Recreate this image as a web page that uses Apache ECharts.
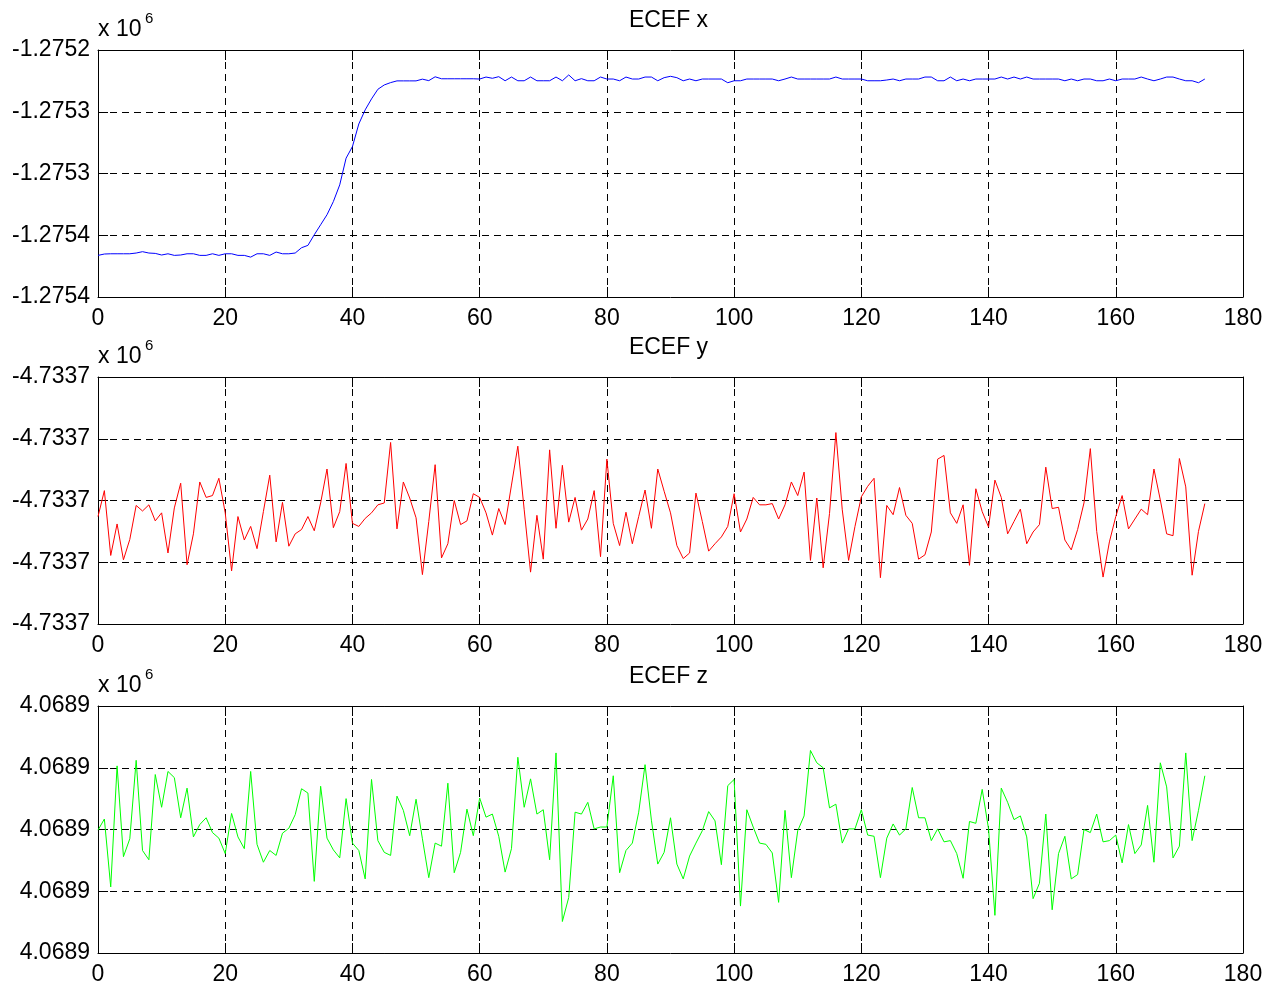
<!DOCTYPE html>
<html>
<head>
<meta charset="utf-8">
<title>ECEF position</title>
<script src="https://cdn.jsdelivr.net/npm/echarts@6/dist/echarts.min.js"></script>
<style>
  html, body { margin: 0; padding: 0; background: #ffffff; }
  #chart { width: 1275px; height: 988px; }
</style>
</head>
<body>
<div id="chart"></div>
<script>
// ECEF coordinates of the receiver, one sample per epoch (metres)
const ecefX = [
  -1275366.3, -1275365.2, -1275365.0, -1275365.0, -1275365.0, -1275365.0, -1275364.4, -1275363.3, -1275364.4, -1275364.7,
  -1275366.0, -1275365.0, -1275366.3, -1275366.0, -1275365.0, -1275365.0, -1275366.3, -1275366.3, -1275365.0, -1275366.3,
  -1275365.0, -1275365.0, -1275366.3, -1275366.3, -1275367.7, -1275365.0, -1275365.0, -1275366.3, -1275363.6, -1275365.0,
  -1275365.0, -1275364.4, -1275360.1, -1275358.2, -1275349.6, -1275341.5, -1275333.4, -1275322.7, -1275309.2, -1275287.6,
  -1275278.2, -1275259.9, -1275248.5, -1275239.6, -1275231.8, -1275228.3, -1275226.4, -1275225.0, -1275225.0, -1275225.0,
  -1275225.0, -1275223.6, -1275224.8, -1275221.7, -1275223.3, -1275223.3, -1275223.3, -1275223.3, -1275223.3, -1275223.3,
  -1275223.5, -1275221.9, -1275222.9, -1275221.6, -1275224.9, -1275221.9, -1275224.9, -1275224.9, -1275221.9, -1275224.9,
  -1275224.9, -1275224.9, -1275221.9, -1275224.9, -1275220.2, -1275224.9, -1275223.2, -1275224.9, -1275224.9, -1275221.9,
  -1275223.5, -1275223.5, -1275224.9, -1275221.9, -1275223.5, -1275223.5, -1275221.9, -1275221.9, -1275224.9, -1275222.4,
  -1275221.3, -1275222.4, -1275224.9, -1275223.5, -1275224.9, -1275223.5, -1275223.5, -1275223.5, -1275223.5, -1275226.5,
  -1275224.9, -1275224.9, -1275223.5, -1275223.5, -1275223.5, -1275223.5, -1275223.5, -1275224.9, -1275223.5, -1275221.9,
  -1275223.5, -1275223.5, -1275223.5, -1275223.5, -1275223.5, -1275223.5, -1275221.9, -1275223.5, -1275223.5, -1275223.5,
  -1275223.5, -1275224.9, -1275224.9, -1275224.9, -1275224.3, -1275223.5, -1275224.9, -1275223.5, -1275223.5, -1275223.5,
  -1275221.9, -1275221.9, -1275224.9, -1275224.9, -1275221.9, -1275224.9, -1275223.5, -1275224.9, -1275223.5, -1275223.5,
  -1275223.5, -1275223.5, -1275221.9, -1275223.5, -1275221.9, -1275223.5, -1275221.9, -1275223.5, -1275223.5, -1275223.5,
  -1275223.5, -1275223.5, -1275224.9, -1275223.5, -1275224.9, -1275223.5, -1275223.5, -1275224.9, -1275224.9, -1275223.5,
  -1275224.9, -1275223.5, -1275223.5, -1275223.5, -1275221.9, -1275223.5, -1275224.9, -1275223.5, -1275221.9, -1275221.9,
  -1275223.5, -1275224.9, -1275224.9, -1275226.5, -1275223.5
];

const ecefY = [
  -4733702.6, -4733698.4, -4733708.9, -4733703.8, -4733709.6, -4733706.3, -4733700.8, -4733701.7, -4733700.7, -4733703.3,
  -4733702.0, -4733708.5, -4733701.2, -4733697.2, -4733710.4, -4733705.4, -4733697.0, -4733699.5, -4733699.2, -4733696.4,
  -4733702.0, -4733711.4, -4733702.6, -4733706.4, -4733704.2, -4733707.8, -4733701.8, -4733695.9, -4733706.7, -4733700.3,
  -4733707.4, -4733705.4, -4733704.7, -4733702.6, -4733704.9, -4733700.4, -4733694.9, -4733704.4, -4733701.8, -4733694.0,
  -4733703.7, -4733704.2, -4733702.9, -4733702.0, -4733700.7, -4733700.4, -4733690.6, -4733704.6, -4733697.0, -4733699.6,
  -4733702.8, -4733712.0, -4733703.4, -4733694.2, -4733709.3, -4733707.0, -4733700.0, -4733703.9, -4733703.3, -4733698.9,
  -4733699.5, -4733702.0, -4733705.6, -4733701.3, -4733703.9, -4733697.5, -4733691.2, -4733701.5, -4733711.6, -4733702.4,
  -4733709.5, -4733691.8, -4733704.5, -4733694.3, -4733703.5, -4733699.5, -4733704.8, -4733703.0, -4733698.4, -4733709.1,
  -4733693.3, -4733703.7, -4733707.3, -4733701.9, -4733707.0, -4733702.6, -4733698.3, -4733704.5, -4733694.9, -4733698.5,
  -4733702.0, -4733707.3, -4733709.4, -4733708.5, -4733698.8, -4733703.4, -4733708.2, -4733707.0, -4733705.9, -4733704.2,
  -4733698.9, -4733705.1, -4733703.0, -4733699.5, -4733700.7, -4733700.7, -4733700.5, -4733703.0, -4733700.7, -4733697.0,
  -4733699.2, -4733695.4, -4733709.7, -4733699.6, -4733710.9, -4733702.1, -4733689.0, -4733701.5, -4733709.7, -4733704.2,
  -4733699.4, -4733697.7, -4733696.4, -4733712.5, -4733700.8, -4733702.3, -4733697.9, -4733702.4, -4733703.7, -4733709.5,
  -4733708.8, -4733705.1, -4733693.3, -4733692.7, -4733702.0, -4733703.7, -4733700.7, -4733710.5, -4733698.1, -4733701.8,
  -4733704.3, -4733696.7, -4733699.5, -4733705.4, -4733703.4, -4733701.4, -4733707.0, -4733705.1, -4733703.9, -4733694.6,
  -4733701.3, -4733701.1, -4733706.4, -4733708.0, -4733704.7, -4733700.4, -4733691.6, -4733705.0, -4733712.4, -4733706.7,
  -4733702.6, -4733699.2, -4733704.6, -4733703.0, -4733701.4, -4733702.3, -4733694.9, -4733699.9, -4733705.4, -4733705.7,
  -4733693.2, -4733697.8, -4733712.1, -4733705.0, -4733700.5
];

const ecefZ = [
  4068899.9, 4068901.7, 4068890.7, 4068910.3, 4068895.6, 4068898.5, 4068911.2, 4068896.6, 4068895.1, 4068908.9,
  4068903.6, 4068909.4, 4068908.4, 4068901.9, 4068906.7, 4068898.8, 4068900.8, 4068901.9, 4068899.5, 4068898.6,
  4068896.1, 4068902.6, 4068898.8, 4068896.9, 4068909.4, 4068897.6, 4068894.7, 4068896.6, 4068895.8, 4068899.4,
  4068900.2, 4068902.4, 4068906.6, 4068905.9, 4068891.6, 4068907.0, 4068898.6, 4068896.7, 4068895.4, 4068905.0,
  4068897.8, 4068896.6, 4068892.0, 4068908.1, 4068898.2, 4068896.3, 4068895.8, 4068905.4, 4068903.1, 4068899.0,
  4068904.9, 4068898.5, 4068892.2, 4068897.8, 4068897.3, 4068907.5, 4068893.0, 4068896.3, 4068903.3, 4068899.0,
  4068905.1, 4068902.0, 4068902.5, 4068898.9, 4068893.1, 4068896.9, 4068911.7, 4068903.6, 4068908.2, 4068902.5,
  4068903.2, 4068895.1, 4068912.4, 4068885.1, 4068889.0, 4068902.8, 4068902.5, 4068904.4, 4068900.1, 4068900.4,
  4068900.4, 4068908.7, 4068893.0, 4068896.6, 4068897.8, 4068902.8, 4068910.5, 4068901.5, 4068894.4, 4068896.3,
  4068901.9, 4068894.4, 4068892.0, 4068895.7, 4068897.8, 4068899.8, 4068902.9, 4068901.4, 4068894.3, 4068907.1,
  4068908.1, 4068887.6, 4068903.2, 4068900.4, 4068897.8, 4068897.6, 4068896.2, 4068888.2, 4068903.1, 4068892.2,
  4068899.8, 4068902.2, 4068912.8, 4068910.8, 4068910.0, 4068903.5, 4068904.1, 4068897.8, 4068900.1, 4068900.1,
  4068903.2, 4068899.1, 4068898.9, 4068892.2, 4068898.6, 4068900.9, 4068899.1, 4068900.1, 4068906.8, 4068901.9,
  4068901.9, 4068898.2, 4068900.1, 4068898.0, 4068898.2, 4068896.1, 4068892.1, 4068901.3, 4068901.0, 4068906.5,
  4068900.1, 4068886.1, 4068906.7, 4068904.4, 4068901.6, 4068902.2, 4068898.8, 4068888.8, 4068891.3, 4068902.5,
  4068887.0, 4068896.1, 4068898.9, 4068892.0, 4068892.7, 4068900.0, 4068899.5, 4068902.5, 4068898.0, 4068898.2,
  4068899.1, 4068894.6, 4068900.8, 4068896.1, 4068897.5, 4068903.9, 4068894.7, 4068910.8, 4068906.9, 4068895.4,
  4068897.3, 4068912.4, 4068898.2, 4068903.1, 4068908.7
];

// Epoch axis: 0 .. 180 in steps of 20
const epochRange = [0, 180, 20];

// Vertical axis limits [min, max, step] and their printed labels (bottom to top, x 10^6)
const rangeX = [-1275400, -1275200, 50];
const rangeY = [-4733720, -4733680, 10];
const rangeZ = [4068880, 4068920, 10];
const tickLabelsX = ['-1.2754', '-1.2754', '-1.2753', '-1.2753', '-1.2752'];
const tickLabelsY = ['-4.7337', '-4.7337', '-4.7337', '-4.7337', '-4.7337'];
const tickLabelsZ = ['4.0689', '4.0689', '4.0689', '4.0689', '4.0689'];

const titles = ['ECEF x', 'ECEF y', 'ECEF z'];

// ---- layout / styling ----
const FONT = '"Liberation Sans", Arial, Helvetica, sans-serif';
const FS = 23;
const PLOT_LEFT = 98, PLOT_WIDTH = 1145, PLOT_HEIGHT = 247;
const PLOT_TOPS = [50, 377, 706];

const panels = [
  { data: ecefX, range: rangeX, labels: tickLabelsX, color: '#0000ff' },
  { data: ecefY, range: rangeY, labels: tickLabelsY, color: '#ff0000' },
  { data: ecefZ, range: rangeZ, labels: tickLabelsZ, color: '#00ff00' }
];

const gridLine = { show: true, lineStyle: { color: '#000000', width: 1, type: [7, 5] } };
const boxLine = { show: true, onZero: false, lineStyle: { color: '#000000', width: 1 } };
const innerTick = { show: true, inside: true, length: 10, lineStyle: { color: '#000000', width: 1 } };

const grid = [], xAxis = [], yAxis = [], series = [], graphic = [];

panels.forEach((p, k) => {
  grid.push({ left: PLOT_LEFT, top: PLOT_TOPS[k], width: PLOT_WIDTH, height: PLOT_HEIGHT, containLabel: false });

  // bottom axis with labels
  xAxis.push({
    type: 'value', gridIndex: k, position: 'bottom',
    min: epochRange[0], max: epochRange[1], interval: epochRange[2],
    axisLine: boxLine, axisTick: innerTick, splitLine: gridLine,
    axisLabel: { color: '#000', fontSize: FS, fontFamily: FONT, margin: 10, showMinLabel: true, showMaxLabel: true }
  });
  // top edge of the box, ticks only
  xAxis.push({
    type: 'value', gridIndex: k, position: 'top',
    min: epochRange[0], max: epochRange[1], interval: epochRange[2],
    axisLine: boxLine, axisTick: innerTick, splitLine: { show: false }, axisLabel: { show: false }
  });

  const [lo, hi, step] = p.range;
  yAxis.push({
    type: 'value', gridIndex: k, position: 'left',
    min: lo, max: hi, interval: step, scale: true,
    axisLine: boxLine, axisTick: innerTick, splitLine: gridLine,
    axisLabel: {
      color: '#000', fontSize: FS, fontFamily: FONT, margin: 8, showMinLabel: true, showMaxLabel: true,
      formatter: (v) => p.labels[Math.round((v - lo) / step)]
    }
  });
  // right edge of the box, ticks only
  yAxis.push({
    type: 'value', gridIndex: k, position: 'right',
    min: lo, max: hi, interval: step, scale: true,
    axisLine: boxLine, axisTick: innerTick, splitLine: { show: false }, axisLabel: { show: false }
  });

  series.push({
    type: 'line', xAxisIndex: 2 * k, yAxisIndex: 2 * k,
    data: p.data.map((v, i) => [i, v]),
    showSymbol: false, symbol: 'none',
    lineStyle: { color: p.color, width: 1 }, itemStyle: { color: p.color },
    clip: true, silent: true
  });

  const top = PLOT_TOPS[k];
  graphic.push({
    type: 'text', x: PLOT_LEFT + PLOT_WIDTH / 2 - 2, y: top - 29,
    style: { text: titles[k], fill: '#000', fontSize: FS, fontFamily: FONT, align: 'center', verticalAlign: 'middle' }
  });
  graphic.push({
    type: 'text', x: PLOT_LEFT, y: top - 20.5,
    style: { text: 'x 10', fill: '#000', fontSize: FS, fontFamily: FONT, align: 'left', verticalAlign: 'middle' }
  });
  graphic.push({
    type: 'text', x: PLOT_LEFT + 47, y: top - 31,
    style: { text: '6', fill: '#000', fontSize: 15, fontFamily: FONT, align: 'left', verticalAlign: 'middle' }
  });
});

const chart = echarts.init(document.getElementById('chart'), null, { renderer: 'canvas' });
chart.setOption({
  backgroundColor: '#ffffff',
  animation: false,
  textStyle: { fontFamily: FONT },
  grid, xAxis, yAxis, series, graphic
});
</script>
</body>
</html>
